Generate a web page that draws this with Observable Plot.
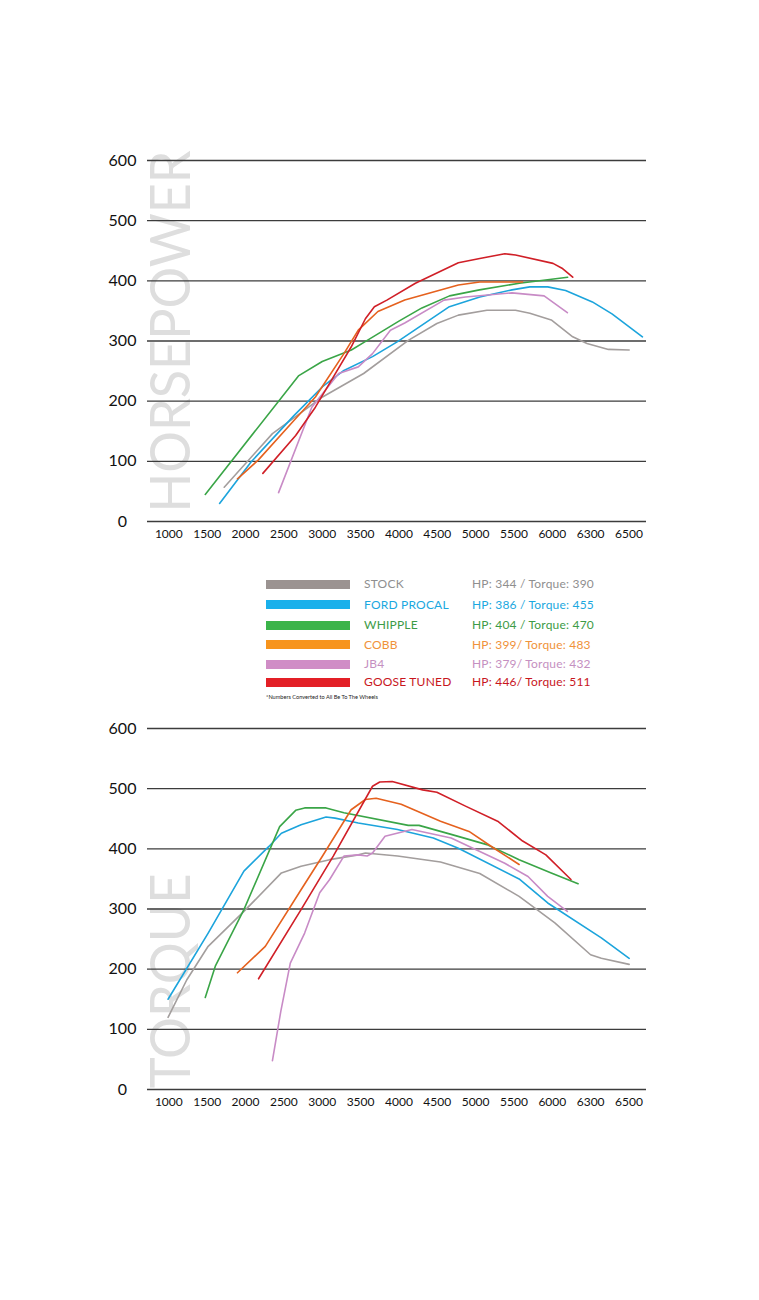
<!DOCTYPE html>
<html>
<head>
<meta charset="utf-8">
<script src="https://cdn.jsdelivr.net/npm/d3@7"></script>
<script src="https://cdn.jsdelivr.net/npm/@observablehq/plot@0.6"></script>
<style>
  html, body { margin: 0; padding: 0; background: #fff; }
  body { width: 759px; height: 1300px; position: relative; font-family: Lato, "Open Sans", sans-serif; }
  #hp { position: absolute; left: 0; top: 140px; }
  #tq { position: absolute; left: 0; top: 708px; }
  #legend { position: absolute; left: 0; top: 0; width: 759px; }
  .row { position: absolute; left: 0; height: 16px; width: 759px; }
  .sw { position: absolute; left: 266px; width: 84px; height: 9px; }
  .nm { position: absolute; left: 364px; font-size: 12px; line-height: 14px; letter-spacing: 0.2px; }
  .vl { position: absolute; left: 472px; font-size: 12px; line-height: 14px; letter-spacing: 0.2px; }
  .note { position: absolute; left: 266px; font-size: 5.6px; color: #222; }
</style>
</head>
<body>
<div id="hp"></div>
<div id="legend"></div>
<div id="tq"></div>
<script>
// ---------- axis data ----------
const yTicks = [0, 100, 200, 300, 400, 500, 600];
// tick positions on the (evenly spaced) rpm axis, and the labels printed there
const xTickPos = [1000, 1500, 2000, 2500, 3000, 3500, 4000, 4500, 5000, 5500, 6000, 6500, 7000];
const xTickLabels = ["1000", "1500", "2000", "2500", "3000", "3500", "4000", "4500", "5000", "5500", "6000", "6300", "6500"];

// ---------- series ----------
const seriesNames = ["STOCK", "FORD PROCAL", "WHIPPLE", "COBB", "JB4", "GOOSE TUNED"];
const lineColors = ["#a39e9d", "#1ca4dc", "#3aa547", "#e5611e", "#c88bc6", "#d01f27"];
const swatchColors = ["#9b9391", "#1ab0eb", "#3bb44a", "#f7941d", "#d08dc6", "#e31f26"];
const textColors = ["#8f8f8f", "#1ba8e0", "#3d9b47", "#f0923a", "#c590c1", "#c8161d"];
const legendValues = ["HP: 344 / Torque: 390", "HP: 386 / Torque: 455", "HP: 404 / Torque: 470",
                      "HP: 399/ Torque: 483", "HP: 379/ Torque: 432", "HP: 446/ Torque: 511"];
const footnote = "*Numbers Converted to All Be To The Wheels";

// Horsepower [rpm-axis position, hp]
const stockHP = [[1722,57],[2351,146],[3004,207],[3540,246],[4122,301],[4495,329],[4775,343],[5147,351],[5520,351],[5707,346],[5986,335],[6266,307],[6452,296],[6732,286],[7002,285]];
const fordHP = [[1662,30],[2072,99],[2631,176],[3004,224],[3283,251],[3656,274],[3982,299],[4658,357],[5054,373],[5474,385],[5707,390],[5940,390],[6173,384],[6522,365],[6778,345],[7175,307]];
const whippleHP = [[1475,45],[2690,242],[3000,266],[3380,285],[3560,299],[4000,333],[4300,355],[4660,375],[5050,385],[5570,396],[6200,406]];
const cobbHP = [[1895,71],[2165,102],[2631,168],[2911,207],[3283,279],[3470,318],[3726,349],[4076,368],[4775,393],[5054,398],[5613,398]];
const jb4HP = [[2431,48],[2864,190],[3214,246],[3470,257],[3656,279],[3889,318],[4076,330],[4588,368],[4868,373],[5474,380],[5893,375],[6196,347]];
const gooseHP = [[2226,80],[2654,143],[2911,190],[3144,240],[3377,290],[3563,337],[3680,357],[3843,368],[4215,396],[4775,430],[5054,437],[5380,445],[5520,443],[6009,429],[6126,421],[6266,406]];

// Torque [rpm-axis position, lb-ft]
const stockTQ = [[990,120],[1233,182],[1513,238],[1979,296],[2468,360],[2724,371],[3097,382],[3470,390],[3563,393],[3982,388],[4542,378],[5054,359],[5567,321],[6033,277],[6499,224],[6639,218],[7002,208]];
const fordTQ = [[990,150],[1513,260],[1979,363],[2305,404],[2468,426],[2724,440],[3050,453],[3167,451],[3470,443],[3982,432],[4448,418],[4775,401],[5567,350],[5940,310],[6639,252],[7002,218]];
const whippleTQ = [[1475,153],[1606,205],[1979,299],[2445,437],[2654,464],[2771,468],[3050,468],[3283,460],[4122,439],[4262,439],[4681,424],[5147,407],[5567,382],[5986,360],[6336,342]];
const cobbTQ = [[1895,194],[2258,238],[2724,332],[3004,388],[3377,465],[3563,482],[3703,484],[4029,474],[4542,446],[4914,429],[5240,401],[5567,374]];
const jb4TQ = [[2351,48],[2460,130],[2584,210],[2771,260],[2967,327],[3097,349],[3283,388],[3470,390],[3586,388],[3656,393],[3819,421],[4169,432],[4681,418],[5380,376],[5683,354],[5940,321],[6196,296]];
const gooseTQ = [[2170,184],[2724,299],[3144,388],[3656,504],[3750,511],[3913,512],[4309,498],[4495,494],[4868,471],[5287,446],[5613,413],[5916,390],[6243,349]];

const hpSeries = [stockHP, fordHP, whippleHP, cobbHP, jb4HP, gooseHP];
const tqSeries = [stockTQ, fordTQ, whippleTQ, cobbTQ, jb4TQ, gooseTQ];

const FONT = "Lato, 'Open Sans', sans-serif";

function makeChart(series, watermark, wmLength, wmY) {
  const rows = series.flatMap((pts, i) => pts.map(([x, y]) => ({ name: seriesNames[i], x, y })));
  const svg = Plot.plot({
    width: 759, height: 420,
    marginLeft: 147, marginRight: 113, marginTop: 20, marginBottom: 39,
    style: { fontFamily: FONT, background: "transparent", color: "#111", overflow: "visible" },
    x: { domain: [722, 7228], label: null },
    y: { domain: [0, 600], label: null },
    color: { domain: seriesNames, range: lineColors },
    marks: [
      Plot.text([watermark], {
        x: 1043, y: wmY, text: d => d, rotate: -90,
        textAnchor: "start", lineAnchor: "middle",
        fontSize: 56, fill: "#dedede", className: "wm"
      }),
      Plot.ruleY(yTicks, { stroke: "#3c3c3c", strokeWidth: 1.3 }),
      Plot.axisY({ ticks: yTicks, label: null, tickSize: 0, tickPadding: 3, textAnchor: "middle", dx: -22, fontSize: 16, fill: "#111" }),
      Plot.axisX({ ticks: xTickPos, label: null, tickSize: 0, tickPadding: 8, fontSize: 12, fill: "#111",
                   tickFormat: d => xTickLabels[xTickPos.indexOf(d)] }),
      Plot.line(rows, { x: "x", y: "y", z: "name", stroke: "name", strokeWidth: 1.6 })
    ]
  });
  d3.select(svg).selectAll(".wm text")
    .attr("textLength", wmLength).attr("lengthAdjust", "spacingAndGlyphs");
  return svg;
}

document.getElementById("hp").appendChild(makeChart(hpSeries, "HORSEPOWER", 362, 15));
document.getElementById("tq").appendChild(makeChart(tqSeries, "TORQUE", 215, 2));

// ---------- legend ----------
const rowCenters = [584, 604.5, 625, 644.5, 664, 682];
const legend = d3.select("#legend");
seriesNames.forEach((name, i) => {
  const r = legend.append("div").attr("class", "row").style("top", (rowCenters[i] - 8) + "px");
  r.append("div").attr("class", "sw").style("top", "3.5px").style("background", swatchColors[i]);
  r.append("div").attr("class", "nm").style("top", "1px").style("color", textColors[i]).text(name);
  r.append("div").attr("class", "vl").style("top", "1px").style("color", textColors[i]).text(legendValues[i]);
});
legend.append("div").attr("class", "note").style("top", "693px").text(footnote);
</script>
</body>
</html>
